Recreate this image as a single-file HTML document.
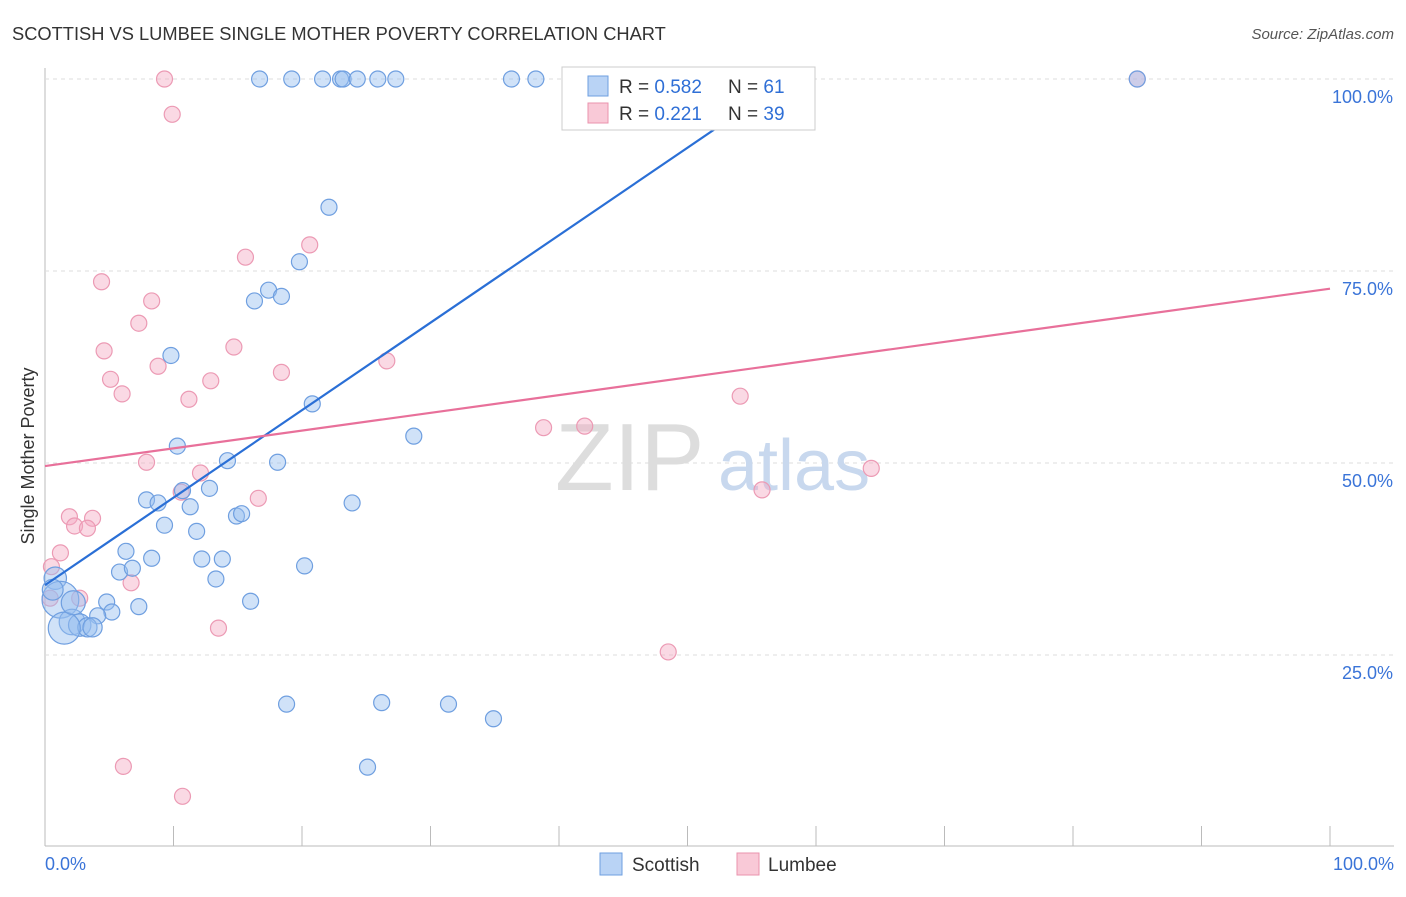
<!DOCTYPE html>
<html><head><meta charset="utf-8">
<style>
body{margin:0;background:#fff;font-family:"Liberation Sans",sans-serif;}
svg text{font-family:"Liberation Sans",sans-serif;}
</style></head>
<body>
<svg id="chart" width="1406" height="892">
<text x="12" y="40" font-size="18.3" fill="#333">SCOTTISH VS LUMBEE SINGLE MOTHER POVERTY CORRELATION CHART</text>
<text x="1394" y="39" font-size="15" fill="#555" font-style="italic" text-anchor="end">Source: ZipAtlas.com</text>
<text x="34" y="456" font-size="18" fill="#333" text-anchor="middle" transform="rotate(-90 34 456)">Single Mother Poverty</text>
<g id="grid"></g>
<text x="555" y="490" font-size="96" fill="#ddd" font-family="Liberation Serif">ZIP</text>
<text x="718" y="490" font-size="72" fill="#c8d8ee">atlas</text>
<g id="marks"></g>
<g>
<rect x="562" y="67" width="253" height="63" fill="#fff" stroke="#ccc"/>
<rect x="588" y="76" width="20" height="20" fill="#b9d3f5" stroke="#6e9fe0"/>
<rect x="588" y="103" width="20" height="20" fill="#f9c9d7" stroke="#ea93ad"/>
<text x="619" y="93" font-size="19" fill="#333">R = <tspan fill="#2f6fd6">0.582</tspan><tspan x="728">N = </tspan><tspan fill="#2f6fd6">61</tspan></text>
<text x="619" y="120" font-size="19" fill="#333">R = <tspan fill="#2f6fd6"> 0.221</tspan><tspan x="728">N = </tspan><tspan fill="#2f6fd6">39</tspan></text>
</g>
<g>
<rect x="600" y="853" width="22" height="22" fill="#b9d3f5" stroke="#6e9fe0"/>
<text x="632" y="871" font-size="19" fill="#333">Scottish</text>
<rect x="737" y="853" width="22" height="22" fill="#f9c9d7" stroke="#ea93ad"/>
<text x="768" y="871" font-size="19" fill="#333">Lumbee</text>
</g>
</svg>
<script>
const scottishX=[16.7,19.2,21.6,23.0,23.2,24.3,25.9,27.3,36.3,38.2,41.2,47.9,85.0,22.1,19.8,17.4,16.3,18.4,9.8,20.8,28.7,10.3,14.2,18.1,7.9,8.8,10.7,12.8,11.3,23.9,9.3,11.8,14.9,15.3,6.3,8.3,12.2,13.8,5.8,6.8,13.3,20.2,16.0,7.3,4.8,5.2,4.1,0.8,1.2,2.1,2.7,3.3,3.7,18.8,26.2,31.4,34.9,25.1,1.5,2.2,0.6];
const scottishY=[100,100,100,100,100,100,100,100,100,100,100,100,100,83.3,76.2,72.5,71.1,71.7,64.0,57.7,53.5,52.2,50.3,50.1,45.2,44.8,46.4,46.7,44.3,44.8,41.9,41.1,43.1,43.4,38.5,37.6,37.5,37.5,35.8,36.3,34.9,36.6,32.0,31.3,31.9,30.6,30.1,35.0,32.2,29.3,28.9,28.6,28.6,18.6,18.8,18.6,16.7,10.4,28.5,31.8,33.5];
const scottishSize=[1,1,1,1,1,1,1,1,1,1,1,1,1,1,1,1,1,1,1,1,1,1,1,1,1,1,1,1,1,1,1,1,1,1,1,1,1,1,1,1,1,1,1,1,1,1,1,1.4,2.3,1.6,1.4,1.2,1.2,1,1,1,1,1,2,1.5,1.3];
const lumbeeX=[9.3,9.9,85.0,20.6,15.6,4.4,8.3,7.3,4.6,14.7,8.8,18.4,5.1,12.9,6.0,11.2,26.6,54.1,38.8,42.0,7.9,12.1,64.3,55.8,10.6,16.6,1.9,3.7,2.3,3.3,1.2,6.7,2.7,13.5,48.5,6.1,10.7,0.5,0.4];
const lumbeeY=[100,95.4,100,78.4,76.8,73.6,71.1,68.2,64.6,65.1,62.6,61.8,60.9,60.7,59.0,58.3,63.3,58.7,54.6,54.8,50.1,48.7,49.3,46.5,46.2,45.4,43.0,42.8,41.8,41.5,38.3,34.4,32.4,28.5,25.4,10.5,6.6,36.5,32.4];
const trendScottish=[34.1,148.0];
const trendLumbee=[49.6,72.7];
const yTicks=[25,50,75,100];
const yTickLabels=["25.0%","50.0%","75.0%","100.0%"];
const xTicks=[0,10,20,30,40,50,60,70,80,90,100];

const sx=v=>45+v*12.85, sy=v=>847-v*7.68;
const NS="http://www.w3.org/2000/svg";
const grid=document.getElementById('grid'), marks=document.getElementById('marks');
function mk(tag,attrs,parent){const e=document.createElementNS(NS,tag);for(const k in attrs)e.setAttribute(k,attrs[k]);parent.appendChild(e);return e;}
let ax=mk('line',{x1:45,y1:68,x2:45,y2:846,stroke:'#bbb'},grid);


let bx=mk('line',{x1:45,y1:846,x2:1394,y2:846,stroke:'#bbb'},grid);


yTicks.forEach((t,i)=>{
  let g=mk('line',{x1:45,y1:sy(t),x2:1394,y2:sy(t),stroke:'#ddd','stroke-dasharray':'4,4'},grid);
  
  
  let l=mk('text',{x:1393,y:sy(t)+24,'font-size':18,fill:'#3a74d8','text-anchor':'end'},grid);
  l.textContent=yTickLabels[i];
  
  
});
xTicks.forEach(t=>{
  let k=mk('line',{x1:sx(t),y1:826,x2:sx(t),y2:846,stroke:'#bbb'},grid);
  
  
});
let x0=mk('text',{x:45,y:870,'font-size':18,fill:'#3a74d8'},grid);x0.textContent='0.0%';


let x1=mk('text',{x:1394,y:870,'font-size':18,fill:'#3a74d8','text-anchor':'end'},grid);x1.textContent='100.0%';



lumbeeX.forEach((v,i)=>{
  let c=mk('circle',{cx:sx(v),cy:sy(lumbeeY[i]),r:8,fill:'rgba(245,170,195,0.45)',stroke:'#ec9ab4','stroke-width':1.2},marks);
  
  
});
scottishX.forEach((v,i)=>{
  let c=mk('circle',{cx:sx(v),cy:sy(scottishY[i]),r:8*scottishSize[i],fill:'rgba(150,190,240,0.45)',stroke:'#6f9fe0','stroke-width':1.2},marks);
  
  
});
const xEnd=(100-trendScottish[0])/(trendScottish[1]-trendScottish[0])*100;
let tb=mk('line',{x1:sx(0),y1:sy(trendScottish[0]),x2:sx(xEnd),y2:sy(100),stroke:'#2a6fd6','stroke-width':2.2},marks);


let tp=mk('line',{x1:sx(0),y1:sy(trendLumbee[0]),x2:sx(100),y2:sy(trendLumbee[1]),stroke:'#e8709a','stroke-width':2.2},marks);


</script>
</body></html>
